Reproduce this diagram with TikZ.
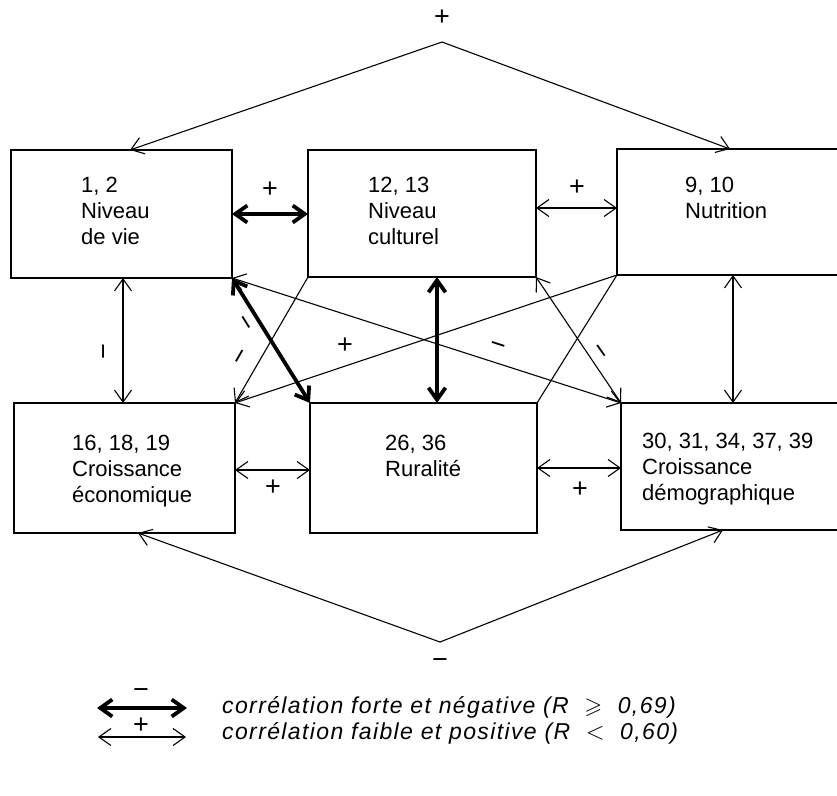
\documentclass[tikz,border=0pt]{standalone}
\usepackage{fontspec}
\setmainfont{Liberation Sans}
\usepackage{amssymb}
\usetikzlibrary{arrows.meta,calc}
\tikzset{
  box/.style={draw, line width=2.6pt, outer sep=0pt, inner sep=0pt, rectangle},
  txt/.style={anchor=north west, align=left, inner sep=0pt, font=\fontsize{22}{26}\selectfont},
  weak/.style={line width=1.1pt},
  strong/.style={line width=3.8pt},
  lab/.style={inner sep=0pt, font=\fontsize{27}{27}\selectfont},
  leg/.style={inner sep=0pt, anchor=west, font=\itshape\fontsize{23}{23}\selectfont\addfontfeature{LetterSpace=6}}
}
\begin{document}
\begin{tikzpicture}[x=1pt,y=-1pt,>={Straight Barb[length=12pt,width=17pt]}]
\useasboundingbox (0,0) rectangle (837,795);
\clip (0,0) rectangle (837,795);

% boxes
\node[box, minimum width=221pt, minimum height=128pt] (A) at (121.5,214) {};
\node[box, minimum width=228pt, minimum height=127pt] (B) at (422,213.5) {};
\node[box, minimum width=243pt, minimum height=126pt] (C) at (738.5,212) {};
\node[box, minimum width=221pt, minimum height=130pt] (D) at (124.5,468) {};
\node[box, minimum width=227pt, minimum height=130pt] (E) at (423.5,468) {};
\node[box, minimum width=239pt, minimum height=127pt] (F) at (740.5,466.5) {};

% box texts
\node[txt] (tA) at (81,177) {1, 2\\Niveau\\de vie};
\node[txt] (tB) at (368,177) {12, 13\\Niveau\\culturel};
\node[txt] (tC) at (685,177) {9, 10\\Nutrition};
\node[txt] (tD) at (72,435) {16, 18, 19\\Croissance\\économique};
\node[txt] (tE) at (385,435) {26, 36\\Ruralité};
\node[txt] (tF) at (642,433) {30, 31, 34, 37, 39\\Croissance\\démographique};

% apexes
\coordinate (ap) at (442,42);
\coordinate (bp) at (440,642);

% connectors
\draw[weak,->] (ap) -- ([xshift=119pt]A.north west);
\draw[weak,->] (ap) -- ([xshift=113pt]C.north west);
\draw[weak,->] (bp) -- ([xshift=124pt]D.south west);
\draw[weak,->] (bp) -- ([xshift=102pt]F.south west);
\draw[strong,<->] (A.east) -- (A.east -| B.west);
\draw[weak,<->] ([yshift=5.5pt]B.east) -- ([yshift=5.5pt]B.east -| C.west);
\draw[weak,<->] ([xshift=1.5pt]A.south) -- ([xshift=1.5pt]A.south |- D.north);
\draw[weak,<->] ([xshift=116pt]C.south west) -- ([xshift=116pt]C.south west |- F.north);
\draw[strong,<->] ([xshift=15pt]B.south) -- ([xshift=15pt]B.south |- E.north);
\draw[strong,<->] (A.south east) -- (E.north west);
\draw[weak,<->] (A.south east) -- (F.north west);
\draw[weak,->] (C.south west) -- (D.north east);
\draw[weak,->] (B.south west) -- (D.north east);
\draw[weak,<->] (B.south east) -- (F.north west);
\draw[weak] (C.south west) -- (E.north east);
\draw[weak,<->] ([yshift=-2pt]D.east) -- ([yshift=-2pt]D.east -| E.west);
\draw[weak,<->] (E.east) -- (E.east -| F.west);

% labels
\node[lab] (s1) at (442,18) {+};
\node[lab] (s2) at (440,664) {−};
\node[lab] (s3) at (270,190) {+};
\node[lab] (s4) at (577,188) {+};
\node[lab] (s5) at (273,488) {+};
\node[lab] (s6) at (580,490) {+};
\node[lab, rotate=90] (s7) at (108,352) {−};
\node[lab, rotate=-58] (s8) at (243,325) {−};
\node[lab, rotate=60] (s9) at (243,358) {−};
\node[lab] (s10) at (345,346) {+};
\node[lab, rotate=-18] (s11) at (497,348) {−};
\node[lab, rotate=-55] (s12) at (598,353) {−};

% legend
\coordinate (k1a) at (97,708);
\coordinate (k1b) at (187,708);
\draw[strong,<->] (k1a) -- (k1b);
\node[lab] (k1s) at (141,694) {−};
\coordinate (k2a) at (98,737);
\coordinate (k2b) at (186,737);
\draw[weak,<->] (k2a) -- (k2b);
\node[lab] (k2s) at (141,726) {+};
\node[leg] (L1) at (222,707) {corrélation forte et négative (R \ $\geqslant$ \ 0,69)};
\node[leg] (L2) at (222,733) {corrélation faible et positive (R \ $<$ \ 0,60)};
\end{tikzpicture}
\end{document}
